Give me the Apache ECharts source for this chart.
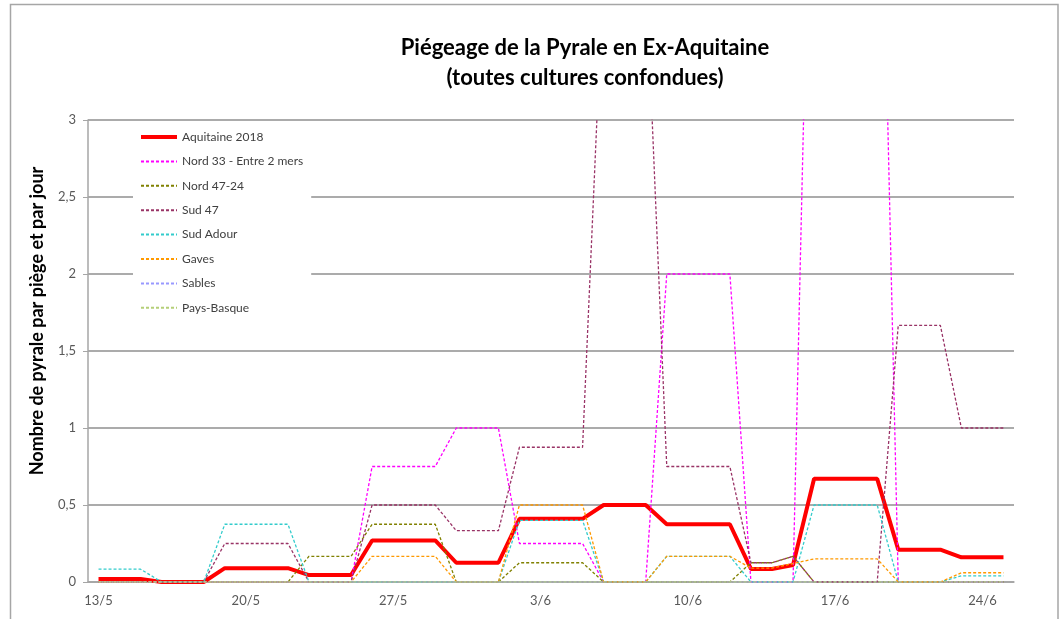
<!DOCTYPE html>
<html>
<head>
<meta charset="utf-8">
<script src="https://cdn.jsdelivr.net/npm/echarts@6/dist/echarts.min.js"></script>
<style>
  html, body { margin: 0; padding: 0; background: #fff; }
  #chart { width: 1061px; height: 619px; }
</style>
</head>
<body>
<div id="chart"></div>
<script>
// relevés journaliers du 13/5 au 25/6
const categories = [
  '13/5', '14/5', '15/5', '16/5', '17/5', '18/5', '19/5', '20/5', '21/5', '22/5',
  '23/5', '24/5', '25/5', '26/5', '27/5', '28/5', '29/5', '30/5', '31/5', '1/6',
  '2/6', '3/6', '4/6', '5/6', '6/6', '7/6', '8/6', '9/6', '10/6', '11/6',
  '12/6', '13/6', '14/6', '15/6', '16/6', '17/6', '18/6', '19/6', '20/6', '21/6',
  '22/6', '23/6', '24/6', '25/6'
];

const aquitaine2018 = [
  0.02, 0.02, 0.02, 0, 0, 0, 0.09, 0.09, 0.09, 0.09,
  0.045, 0.045, 0.045, 0.27, 0.27, 0.27, 0.27, 0.125, 0.125, 0.125,
  0.41, 0.41, 0.41, 0.41, 0.5, 0.5, 0.5, 0.375, 0.375, 0.375,
  0.375, 0.085, 0.085, 0.11, 0.67, 0.67, 0.67, 0.67, 0.21, 0.21,
  0.21, 0.16, 0.16, 0.16
];
const nord33 = [
  0, 0, 0, 0, 0, 0, 0, 0, 0, 0,
  0, 0, 0, 0.75, 0.75, 0.75, 0.75, 1, 1, 1,
  0.25, 0.25, 0.25, 0.25, 0, 0, 0, 2, 2, 2,
  2, 0, 0, 0, 6, 6, 6, 6, 0, 0,
  0, 0, 0, 0
];
const nord4724 = [
  0, 0, 0, 0, 0, 0, 0, 0, 0, 0,
  0.167, 0.167, 0.167, 0.375, 0.375, 0.375, 0.375, 0, 0, 0,
  0.125, 0.125, 0.125, 0.125, 0, 0, 0, 0, 0, 0,
  0, 0.125, 0.125, 0.167, 0, 0, 0, 0, 0, 0,
  0, 0, 0, 0
];
const sud47 = [
  0, 0, 0, 0, 0, 0, 0.25, 0.25, 0.25, 0.25,
  0, 0, 0, 0.5, 0.5, 0.5, 0.5, 0.333, 0.333, 0.333,
  0.875, 0.875, 0.875, 0.875, 4, 4, 4, 0.75, 0.75, 0.75,
  0.75, 0.125, 0.125, 0.167, 0, 0, 0, 0, 1.667, 1.667,
  1.667, 1, 1, 1
];
const sudAdour = [
  0.083, 0.083, 0.083, 0, 0, 0, 0.375, 0.375, 0.375, 0.375,
  0, 0, 0, 0, 0, 0, 0, 0, 0, 0,
  0.4, 0.4, 0.4, 0.4, 0, 0, 0, 0.167, 0.167, 0.167,
  0.167, 0, 0, 0, 0.5, 0.5, 0.5, 0.5, 0, 0,
  0, 0.04, 0.04, 0.04
];
const gaves = [
  0, 0, 0, 0, 0, 0, 0, 0, 0, 0,
  0, 0, 0, 0.167, 0.167, 0.167, 0.167, 0, 0, 0,
  0.5, 0.5, 0.5, 0.5, 0, 0, 0, 0.167, 0.167, 0.167,
  0.167, 0.09, 0.09, 0.12, 0.15, 0.15, 0.15, 0.15, 0, 0,
  0, 0.06, 0.06, 0.06
];
const sables = [
  0, 0, 0, 0, 0, 0, 0, 0, 0, 0,
  0, 0, 0, 0, 0, 0, 0, 0, 0, 0,
  0, 0, 0, 0, 0, 0, 0, 0, 0, 0,
  0, 0, 0, 0, 0, 0, 0, 0, 0, 0,
  0, 0, 0, 0
];
const paysBasque = [
  0, 0, 0, 0, 0, 0, 0, 0, 0, 0,
  0, 0, 0, 0, 0, 0, 0, 0, 0, 0,
  0, 0, 0, 0, 0, 0, 0, 0, 0, 0,
  0, 0, 0, 0, 0, 0, 0, 0, 0, 0,
  0, 0, 0, 0
];

const FONT = 'Lato, "Open Sans", sans-serif';

const chart = echarts.init(document.getElementById('chart'));

function dashed(name, color, data) {
  return {
    name: name,
    type: 'line',
    symbol: 'none',
    data: data,
    color: color,
    lineStyle: { color: color, width: 1.3, type: [3, 2] },
    animation: false
  };
}

const option = {
  backgroundColor: '#fff',
  textStyle: { fontFamily: FONT },
  graphic: [
    {
      type: 'rect',
      shape: { x: 10.5, y: 4.5, width: 1047.5, height: 640 },
      style: { fill: 'none', stroke: '#a6a6a6', lineWidth: 1.5 },
      silent: true
    },
    {
      type: 'text',
      x: 585, y: 48,
      style: { text: 'Piégeage de la Pyrale en Ex-Aquitaine', font: 'bold 22px ' + FONT, fill: '#000', textAlign: 'center', textVerticalAlign: 'middle' }
    },
    {
      type: 'text',
      x: 585, y: 78,
      style: { text: '(toutes cultures confondues)', font: 'bold 22px ' + FONT, fill: '#000', textAlign: 'center', textVerticalAlign: 'middle' }
    },
    {
      type: 'text',
      x: 37, y: 321,
      rotation: Math.PI / 2,
      style: { text: 'Nombre de pyrale par piège et par jour', font: 'bold 18px ' + FONT, fill: '#000', textAlign: 'center', textVerticalAlign: 'middle' }
    }
  ],
  legend: {
    orient: 'vertical',
    left: 133,
    top: 126,
    padding: [5, 8, 5, 6],
    itemWidth: 36,
    itemHeight: 14,
    itemGap: 12.4,
    backgroundColor: '#fff',
    itemStyle: { opacity: 0 },
    textStyle: { fontSize: 12, color: '#404040', fontFamily: FONT },
    data: [
      { name: 'Aquitaine 2018', lineStyle: { width: 4 } },
      'Nord 33 - Entre 2 mers', 'Nord 47-24', 'Sud 47', 'Sud Adour', 'Gaves', 'Sables', 'Pays-Basque'
    ]
  },
  grid: { left: 88, right: 47, top: 120, bottom: 37, containLabel: false },
  xAxis: {
    type: 'category',
    data: categories,
    boundaryGap: true,
    axisLine: { lineStyle: { color: '#a6a6a6', width: 1.5 } },
    axisTick: { interval: 6, length: 4, lineStyle: { color: '#a6a6a6' } },
    axisLabel: { interval: 6, fontSize: 13, color: '#595959', margin: 12, fontFamily: FONT },
    splitLine: { show: false }
  },
  yAxis: {
    type: 'value',
    min: 0,
    max: 3,
    interval: 0.5,
    axisLine: { show: true, lineStyle: { color: '#a6a6a6', width: 1.5 } },
    axisTick: { show: true, length: 5, lineStyle: { color: '#a6a6a6' } },
    axisLabel: {
      fontSize: 13, color: '#595959', margin: 12, fontFamily: FONT,
      formatter: v => String(v).replace('.', ',')
    },
    splitLine: { lineStyle: { color: '#ababab', width: 1.8 } }
  },
  series: [
    {
      name: 'Aquitaine 2018',
      type: 'line',
      symbol: 'none',
      data: aquitaine2018,
      color: '#ff0000',
      lineStyle: { color: '#ff0000', width: 4 },
      animation: false
    },
    dashed('Nord 33 - Entre 2 mers', '#ff00ff', nord33),
    dashed('Nord 47-24', '#808000', nord4724),
    dashed('Sud 47', '#993366', sud47),
    dashed('Sud Adour', '#33cccc', sudAdour),
    dashed('Gaves', '#ff9900', gaves),
    dashed('Sables', '#9999ff', sables),
    dashed('Pays-Basque', '#b5cf78', paysBasque)
  ]
};

chart.setOption(option);
</script>
</body>
</html>
